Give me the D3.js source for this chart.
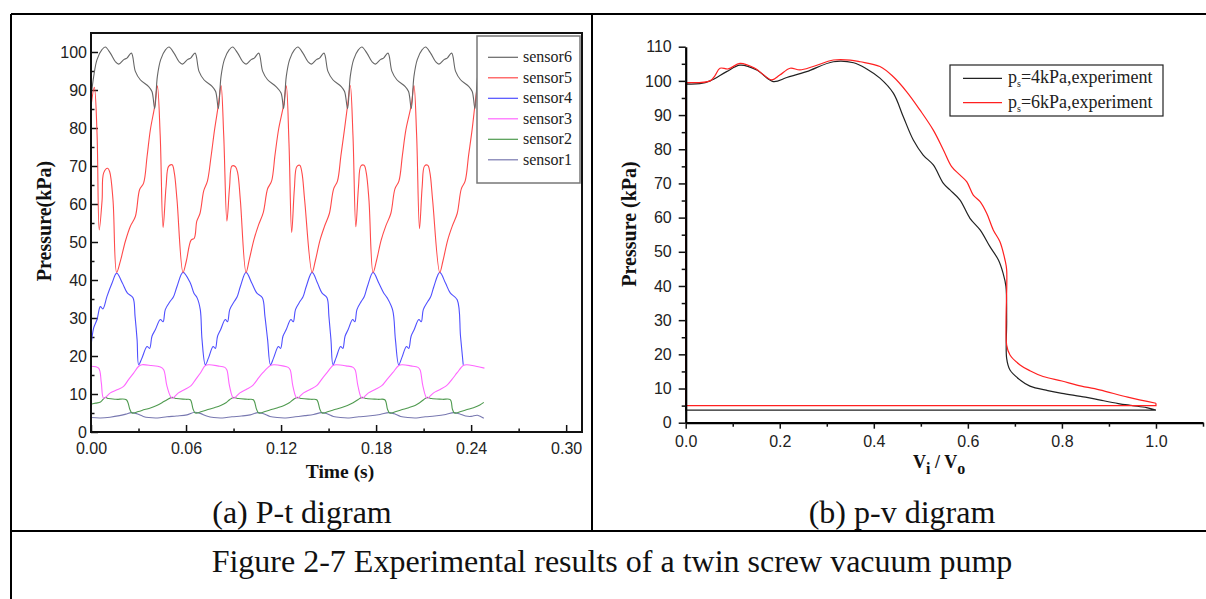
<!DOCTYPE html>
<html>
<head>
<meta charset="utf-8">
<script src="https://cdn.jsdelivr.net/npm/d3@7"></script>
<style>
  body { margin: 0; background: #fff; }
  svg { display: block; }
</style>
</head>
<body>
<svg id="canvas" width="1206" height="599"></svg>
<script>
// ---------------- data: (a) P-t diagram ----------------
const timeTicks = [0, 0.06, 0.12, 0.18, 0.24, 0.30]
const timeMinor = [0.03, 0.09, 0.15, 0.21, 0.27]
const pressTicksA = [0, 10, 20, 30, 40, 50, 60, 70, 80, 90, 100]
const pressMinorA = [5, 15, 25, 35, 45, 55, 65, 75, 85, 95]

const sensor6 = [[0,88],[0.0017,93.6],[0.0038,98],[0.0069,100.6],[0.009,101.3],[0.0122,99.7],[0.0153,97.5],[0.0175,96.8],[0.0207,98],[0.0227,98.4],[0.0255,99.7],[0.028,94.9],[0.0311,92.7],[0.0364,90.9],[0.0385,89.6],
  [0.0402,85.1],[0.0419,93.6],[0.044,98],[0.0471,100.6],[0.0492,101.3],[0.0524,99.7],[0.0555,97.5],[0.0577,96.8],[0.0609,98],[0.0629,98.4],[0.0657,99.7],[0.0682,94.9],[0.0713,92.7],[0.0766,90.9],[0.0787,89.6],
  [0.0804,85.1],[0.0821,93.6],[0.0842,98],[0.0873,100.6],[0.0894,101.3],[0.0926,99.7],[0.0957,97.5],[0.0979,96.8],[0.1011,98],[0.1031,98.4],[0.1059,99.7],[0.1084,94.9],[0.1115,92.7],[0.1168,90.9],[0.12,89.2],
  [0.1216,85.1],[0.1233,93.6],[0.1254,98],[0.1285,100.6],[0.1306,101.3],[0.1338,99.7],[0.1369,97.5],[0.1391,96.8],[0.1423,98],[0.1443,98.4],[0.1471,99.7],[0.1496,94.9],[0.1527,92.7],[0.158,90.9],[0.1601,89.6],
  [0.162,85.1],[0.1637,93.6],[0.1658,98],[0.1689,100.6],[0.171,101.3],[0.1742,99.7],[0.1773,97.5],[0.1795,96.8],[0.1827,98],[0.1847,98.4],[0.1875,99.7],[0.19,94.9],[0.1931,92.7],[0.1984,90.9],[0.2005,89.6],
  [0.2022,85.1],[0.2039,93.6],[0.206,98],[0.2091,100.6],[0.2112,101.3],[0.2144,99.7],[0.2175,97.5],[0.2197,96.8],[0.2229,98],[0.2249,98.4],[0.2277,99.7],[0.2302,94.9],[0.2333,92.7],[0.2386,90.9],[0.2407,89.6],
  [0.2424,85.1],[0.2441,93.6],[0.2462,98],[0.248,99.5]]

const sensor5 = [[0,85.7],[0.0021,90.7],[0.0038,78.7],[0.0052,53.2],[0.007,61],[0.008,68.2],[0.0105,69.4],[0.0118,68.5],[0.0139,61],[0.0162,42],
  [0.0185,44.9],[0.0217,50.2],[0.0248,54.1],[0.028,56.7],[0.0307,63.8],[0.0332,65.5],[0.0354,72.5],[0.0375,79.6],[0.0402,85.7],
  [0.0419,91.1],[0.0437,78],[0.0455,53.8],[0.0474,64.6],[0.049,69.9],[0.0512,70.3],[0.0526,68.2],[0.0543,61.1],[0.0581,42],
  [0.0602,45],[0.0632,50.5],[0.0652,51],[0.0668,55.5],[0.0688,57.5],[0.0712,63.5],[0.0735,66],[0.0758,72.5],[0.078,79.5],[0.0804,86],
  [0.0821,91.2],[0.0838,78],[0.0858,55.5],[0.0875,64.6],[0.089,70],[0.0912,69.8],[0.0926,68.2],[0.0943,61],[0.0979,42],
  [0.1,45.5],[0.103,50.8],[0.1058,54.5],[0.1088,57.8],[0.1115,64],[0.114,66],[0.1162,73],[0.1185,79.8],[0.1216,86],
  [0.1233,91.1],[0.125,76],[0.1267,52.5],[0.1284,64],[0.1299,69.8],[0.1318,70.2],[0.1332,68.2],[0.1349,61],[0.1396,42],
  [0.1416,45],[0.1446,50.5],[0.1475,54.2],[0.1505,57.5],[0.1532,64],[0.1556,66],[0.1578,72.8],[0.16,79.5],[0.162,86],
  [0.1637,91.2],[0.1654,78],[0.1672,54],[0.1689,64.6],[0.1704,70],[0.1724,70.2],[0.1738,68.2],[0.1755,61],[0.1781,42],
  [0.1802,45],[0.1832,50.5],[0.1862,54.3],[0.1893,57.5],[0.1919,64],[0.1944,66],[0.1966,72.8],[0.1988,79.5],[0.2022,86],
  [0.2039,91.2],[0.2056,78],[0.2074,53.5],[0.2091,64.6],[0.2106,70],[0.2126,70.2],[0.214,68.2],[0.2157,61],[0.2202,42],
  [0.2222,45],[0.2252,50.5],[0.2282,54.3],[0.2312,57.5],[0.2338,64],[0.2362,66],[0.2384,72.8],[0.2406,79.5],[0.2424,86],
  [0.2441,91.2],[0.2448,88]]

const sensor4 = [[0,22.5],[0.0017,27.4],[0.0038,29.6],[0.0059,33],[0.0075,32.4],[0.0101,35.7],[0.0133,39.2],[0.0162,41.8],
  [0.0198,39.2],[0.0229,36.6],[0.0265,35.3],[0.0278,30.5],[0.0291,24.3],[0.0301,17.7],
  [0.0322,19.5],[0.0354,22.5],[0.037,22],[0.0385,25.2],[0.0406,26.9],[0.0438,29.6],[0.0455,29],[0.0469,32.2],[0.05,34.4],[0.052,35.5],[0.0543,38.3],[0.0581,42],
  [0.0627,39.2],[0.065,36.5],[0.067,35.3],[0.069,32.2],[0.0701,24.3],[0.0722,17.7],
  [0.0742,19.5],[0.0771,22.5],[0.0785,22],[0.0799,25.2],[0.0818,26.9],[0.0848,29.6],[0.0862,29],[0.0876,32.2],[0.0905,34.4],[0.0922,35.5],[0.0943,38.3],[0.0979,42],
  [0.1015,39.2],[0.1046,36.6],[0.1082,35.3],[0.1098,30.5],[0.1115,24.3],[0.1133,17.7],
  [0.1153,19.5],[0.1183,22.5],[0.1197,22],[0.1212,25.2],[0.1232,26.9],[0.1262,29.6],[0.1277,29],[0.1291,32.2],[0.132,34.4],[0.1338,35.5],[0.1359,38.3],[0.1396,42],
  [0.143,39.2],[0.1458,36.6],[0.149,35.3],[0.1502,30.5],[0.1515,24.3],[0.1528,17.7],
  [0.1547,19.5],[0.1576,22.5],[0.159,22],[0.1604,25.2],[0.1623,26.9],[0.1652,29.6],[0.1666,29],[0.1679,32.2],[0.1707,34.4],[0.1724,35.5],[0.1745,38.3],[0.1781,42],
  [0.1817,39.2],[0.1848,36.6],[0.187,35.3],[0.1905,32],[0.1922,24.3],[0.1943,17.7],
  [0.1962,19.5],[0.1992,22.5],[0.2006,22],[0.2021,25.2],[0.204,26.9],[0.207,29.6],[0.2085,29],[0.2098,32.2],[0.2127,34.4],[0.2144,35.5],[0.2165,38.3],[0.2202,42],
  [0.2238,39.2],[0.2268,36.6],[0.2312,34.8],[0.2333,25.2],[0.235,17.7]]

const sensor3 = [[0,17.3],[0.0048,16.8],[0.0065,13],[0.008,8.9],
  [0.0122,10.3],[0.0164,11.1],[0.0206,12],[0.0237,13.8],[0.0269,15.5],[0.0301,17.3],[0.0322,17.7],[0.038,17.5],[0.0438,17.1],[0.0459,16.4],[0.048,12],[0.0512,8.9],
  [0.0552,10.3],[0.0592,11.2],[0.0632,12.2],[0.066,13.8],[0.0692,15.6],[0.0722,17.5],[0.0745,17.7],[0.08,17.4],[0.0845,17],[0.0858,16.3],[0.0875,12],[0.09,8.9],
  [0.094,10.3],[0.098,11.2],[0.102,12.2],[0.105,13.8],[0.1085,15.6],[0.1133,17.5],[0.1155,17.7],[0.121,17.4],[0.1245,17],[0.1258,16.3],[0.1275,12],[0.1301,8.9],
  [0.1342,10.3],[0.1384,11.2],[0.1425,12.2],[0.1455,13.8],[0.149,15.6],[0.1528,17.5],[0.155,17.7],[0.161,17.4],[0.1655,17],[0.1668,16.3],[0.1686,12],[0.1711,8.9],
  [0.1752,10.3],[0.1794,11.2],[0.1836,12.2],[0.1868,13.8],[0.1905,15.6],[0.1943,17.5],[0.1965,17.7],[0.202,17.4],[0.2065,17],[0.2078,16.3],[0.2096,12],[0.2122,8.9],
  [0.2163,10.3],[0.2205,11.2],[0.2245,12.2],[0.2278,13.8],[0.2312,15.6],[0.235,17.5],[0.2372,17.7],[0.243,17.3],[0.2484,16.8]]

const sensor2 = [[0,7.3],[0.003,7.6],[0.006,7.9],[0.009,9.1],[0.011,8.8],[0.016,8.6],[0.0223,8.5],[0.0245,6],[0.0259,5],
  [0.0299,5.4],[0.0339,5.9],[0.0375,6.3],[0.0415,7],[0.0448,7.7],[0.048,8.5],[0.0512,9.1],[0.054,8.8],[0.06,8.6],[0.0627,8.5],[0.0645,6],[0.0659,5],
  [0.0699,5.4],[0.0739,5.9],[0.0779,6.4],[0.0819,7],[0.0852,7.7],[0.0875,8.5],[0.09,9.1],[0.093,8.8],[0.099,8.6],[0.1025,8.5],[0.1045,6],[0.1059,5],
  [0.1099,5.4],[0.1139,5.9],[0.1179,6.4],[0.1219,7],[0.1252,7.7],[0.1276,8.5],[0.1301,9.1],[0.133,8.8],[0.139,8.6],[0.1425,8.5],[0.1445,6],[0.1459,5],
  [0.1499,5.4],[0.1539,5.9],[0.1579,6.4],[0.1619,7],[0.1655,7.7],[0.1685,8.5],[0.1711,9.1],[0.174,8.8],[0.181,8.6],[0.1855,8.5],[0.1872,6],[0.1886,5],
  [0.1926,5.4],[0.1966,5.9],[0.2006,6.4],[0.2046,7],[0.2075,7.7],[0.21,8.5],[0.2122,9.1],[0.215,8.8],[0.222,8.6],[0.2268,8.5],[0.2282,6],[0.2295,5],
  [0.2335,5.4],[0.2375,5.9],[0.2415,6.4],[0.2455,7.1],[0.248,7.8]]

const sensor1 = [[0,3.8],[0.006,3.7],[0.012,3.9],[0.018,4.3],[0.022,4.7],[0.0255,5.1],[0.029,4.8],[0.033,4.1],[0.0365,3.8],
  [0.042,3.7],[0.048,4],[0.054,4.2],[0.0606,4.5],[0.0655,5.2],[0.069,4.9],[0.073,4.2],[0.0775,3.8],
  [0.083,3.7],[0.089,4],[0.095,4.2],[0.1005,4.5],[0.1055,5.1],[0.109,4.8],[0.113,4.1],[0.1175,3.8],
  [0.123,3.7],[0.129,4],[0.135,4.3],[0.1405,4.6],[0.1455,5.1],[0.149,4.8],[0.153,4.1],[0.1575,3.8],
  [0.163,3.7],[0.169,4],[0.175,4.2],[0.1825,4.6],[0.188,5.1],[0.1915,4.8],[0.1955,4.1],[0.2,3.8],
  [0.2055,3.7],[0.211,4],[0.217,4.2],[0.224,4.6],[0.229,5.1],[0.2325,4.8],[0.2365,4.2],[0.24,4.1],[0.244,4.4],[0.248,3.6]]

const sensorNames = ['sensor6', 'sensor5', 'sensor4', 'sensor3', 'sensor2', 'sensor1']
const sensorData = [sensor6, sensor5, sensor4, sensor3, sensor2, sensor1]

// ---------------- data: (b) p-v diagram ----------------
const volTicks = [0, 0.2, 0.4, 0.6, 0.8, 1.0]
const volMinor = [0.1, 0.3, 0.5, 0.7, 0.9, 1.1]
const pressTicksB = [0, 10, 20, 30, 40, 50, 60, 70, 80, 90, 100, 110]
const pressMinorB = [5, 15, 25, 35, 45, 55, 65, 75, 85, 95, 105]

const ps4kPa = [[0,3.7],[0,99.1],[0.03,99.2],[0.052,100],[0.087,102.7],[0.1155,104.6],[0.151,103.2],[0.186,99.8],[0.215,101],[0.257,102.7],[0.314,105.6],[0.357,105.3],[0.385,103.5],[0.413,100.8],[0.4415,96.4],[0.4627,89.5],[0.484,82.7],[0.505,78.3],[0.5265,75.4],[0.548,70],[0.562,68.1],[0.583,65.2],[0.6045,59.8],[0.626,56.4],[0.647,51.5],[0.665,47.6],[0.675,43.7],[0.681,39.8],[0.6825,30],[0.6825,18.8],[0.6896,15.4],[0.711,12.5],[0.732,10.7],[0.77,9.4],[0.8,8.6],[0.85,7.5],[0.882,6.6],[0.92,5.6],[0.95,5],[0.98,4.4],[1.0,3.7],[0,3.7]]
const ps6kPa = [[0,5],[0,99.5],[0.052,100],[0.062,101.5],[0.073,103.7],[0.0906,103.5],[0.1155,105.1],[0.147,103.7],[0.183,100.3],[0.2,101.7],[0.222,103.7],[0.243,103.2],[0.271,104.2],[0.314,106.1],[0.35,106.1],[0.371,105.6],[0.413,104.2],[0.4415,101.2],[0.47,96.8],[0.498,91.5],[0.5265,85.6],[0.548,79.8],[0.5655,74.9],[0.583,72.5],[0.5975,70.5],[0.6115,66.6],[0.626,64.7],[0.64,61.3],[0.654,56.4],[0.668,53],[0.679,47.6],[0.6825,44.7],[0.6825,22.7],[0.6896,19.8],[0.711,16.9],[0.732,15.2],[0.76,13.5],[0.8,12.2],[0.832,11],[0.88,9.6],[0.94,7.5],[1.0,5.7],[1.0,5],[0,5]]
const pvNames = ['=4kPa,experiment', '=6kPa,experiment']
const pvData = [ps4kPa, ps6kPa]

// ---------------- styles ----------------
const sensorColors = ['#666666', '#ff4a4a', '#4f4fff', '#ff66ff', '#4f9a4f', '#7878b0']
const pvColors = ['#222222', '#ff2020']
const serif = '"Liberation Serif", "Times New Roman", serif'
const sans = '"Liberation Sans", Arial, sans-serif'

let canvas = d3.select('#canvas')
canvas.append('rect').attr('width', 1206).attr('height', 599).attr('fill', '#fff')

// table borders
let borders = [[11, 14, 1206, 14], [11, 14, 11, 599], [592, 14, 592, 531], [11, 531, 1206, 531]]
canvas.selectAll('line.border').data(borders).enter().append('line')
  .attr('class', 'border')
  .attr('x1', d => d[0]).attr('y1', d => d[1]).attr('x2', d => d[2]).attr('y2', d => d[3])
  .attr('stroke', '#000').attr('stroke-width', 2)

let styleAxis = (g, size) => {
  g.attr('font-family', sans).attr('font-size', size)
  g.selectAll('text').attr('fill', '#222')
  g.selectAll('line').attr('stroke', '#111').attr('stroke-width', 1.5)
}

// ================= (a) P-t =================
let xT = d3.scaleLinear().domain([0, 0.31]).range([91, 582])
let yT = d3.scaleLinear().domain([0, 105]).range([432, 33])
let panelA = canvas.append('g')

panelA.append('g').attr('transform', 'translate(0,432)')
  .call(d3.axisBottom(xT).tickValues(timeTicks).tickFormat(d3.format('.2f')).tickSizeInner(-7).tickSizeOuter(0).tickPadding(11))
  .call(g => g.select('.domain').remove())
  .call(g => styleAxis(g, 16))
panelA.append('g').attr('transform', 'translate(0,432)')
  .call(d3.axisBottom(xT).tickValues(timeMinor).tickFormat('').tickSizeInner(-3.5).tickSizeOuter(0))
  .call(g => g.select('.domain').remove())
  .call(g => styleAxis(g, 16))
panelA.append('g').attr('transform', 'translate(91,0)')
  .call(d3.axisLeft(yT).tickValues(pressTicksA).tickSizeInner(-7).tickSizeOuter(0).tickPadding(4))
  .call(g => g.select('.domain').remove())
  .call(g => styleAxis(g, 16))
panelA.append('g').attr('transform', 'translate(91,0)')
  .call(d3.axisLeft(yT).tickValues(pressMinorA).tickFormat('').tickSizeInner(-3.5).tickSizeOuter(0))
  .call(g => g.select('.domain').remove())
  .call(g => styleAxis(g, 16))

let lineA = d3.line().x(d => xT(d[0])).y(d => yT(d[1])).curve(d3.curveCatmullRom.alpha(0.5))
// draw bottom sensors first so upper curves sit on top
panelA.selectAll('path.sensor').data(sensorData.slice().reverse()).enter().append('path')
  .attr('class', 'sensor')
  .attr('d', lineA)
  .attr('fill', 'none')
  .attr('stroke', (d, i) => sensorColors[sensorColors.length - 1 - i])
  .attr('stroke-width', 1.1)

panelA.append('rect').attr('x', 91).attr('y', 33).attr('width', 491).attr('height', 399)
  .attr('fill', 'none').attr('stroke', '#111').attr('stroke-width', 2)

// legend (a)
let legA = panelA.append('g')
legA.append('rect').attr('x', 477).attr('y', 36).attr('width', 103).attr('height', 147)
  .attr('fill', '#fff').attr('stroke', '#777').attr('stroke-width', 1.5)
let rowsA = legA.selectAll('g.row').data(sensorNames).enter().append('g')
  .attr('transform', (d, i) => 'translate(0,' + (57.3 + i * 20.5) + ')')
rowsA.append('line').attr('x1', 488).attr('x2', 518).attr('y1', 0).attr('y2', 0)
  .attr('stroke', (d, i) => sensorColors[i]).attr('stroke-width', 1.2)
rowsA.append('text').attr('x', 523).attr('y', 5).text(d => d)
  .attr('font-family', serif).attr('font-size', 16).attr('fill', '#222')

panelA.append('text').attr('transform', 'translate(51,221) rotate(-90)')
  .attr('text-anchor', 'middle').attr('font-family', serif).attr('font-size', 20)
  .attr('font-weight', 'bold').attr('fill', '#111').text('Pressure(kPa)')
panelA.append('text').attr('x', 340).attr('y', 478)
  .attr('text-anchor', 'middle').attr('font-family', serif).attr('font-size', 19.5)
  .attr('font-weight', 'bold').attr('fill', '#111').text('Time (s)')

// ================= (b) p-v =================
let xV = d3.scaleLinear().domain([0, 1.1]).range([685.7, 1203])
let yV = d3.scaleLinear().domain([0, 110]).range([422.7, 46.7])
let panelB = canvas.append('g')

// smooth compression/discharge branch, straight closing segments of the loop
let smoothB = d3.line().x(d => xV(d[0])).y(d => yV(d[1])).curve(d3.curveCatmullRom.alpha(0.5))
let straightB = d3.line().x(d => xV(d[0])).y(d => yV(d[1]))
let loopPath = (d) => {
  let end = d.findIndex(p => p[0] >= 1.0)
  let branch = d.slice(1, end + 1)
  let closing = d.slice(end).concat([d[1]])
  return smoothB(branch) + straightB(closing)
}
panelB.selectAll('path.pv').data(pvData).enter().append('path')
  .attr('class', 'pv')
  .attr('d', loopPath)
  .attr('fill', 'none')
  .attr('stroke', (d, i) => pvColors[i])
  .attr('stroke-width', 1.2)

panelB.append('g').attr('transform', 'translate(0,422.7)')
  .call(d3.axisBottom(xV).tickValues(volTicks).tickFormat(d3.format('.1f')).tickSizeInner(6).tickSizeOuter(0).tickPadding(7))
  .call(g => styleAxis(g, 16))
  .call(g => g.select('.domain').attr('stroke', '#000').attr('stroke-width', 2.2))
panelB.append('g').attr('transform', 'translate(0,422.7)')
  .call(d3.axisBottom(xV).tickValues(volMinor).tickFormat('').tickSizeInner(4).tickSizeOuter(0))
  .call(g => g.select('.domain').remove())
  .call(g => styleAxis(g, 16))
panelB.append('g').attr('transform', 'translate(685.7,0)')
  .call(d3.axisLeft(yV).tickValues(pressTicksB).tickSizeInner(7).tickSizeOuter(0).tickPadding(7))
  .call(g => styleAxis(g, 16))
  .call(g => g.select('.domain').attr('stroke', '#000').attr('stroke-width', 2.2))
panelB.append('g').attr('transform', 'translate(685.7,0)')
  .call(d3.axisLeft(yV).tickValues(pressMinorB).tickFormat('').tickSizeInner(4).tickSizeOuter(0))
  .call(g => g.select('.domain').remove())
  .call(g => styleAxis(g, 16))

// legend (b)
let legB = panelB.append('g')
legB.append('rect').attr('x', 950).attr('y', 65).attr('width', 213).attr('height', 51)
  .attr('fill', '#fff').attr('stroke', '#222').attr('stroke-width', 1.2)
let rowsB = legB.selectAll('g.row').data(pvNames).enter().append('g')
  .attr('transform', (d, i) => 'translate(0,' + (78.3 + i * 24.4) + ')')
rowsB.append('line').attr('x1', 963).attr('x2', 1002).attr('y1', 0).attr('y2', 0)
  .attr('stroke', (d, i) => pvColors[i]).attr('stroke-width', 1.2)
let legText = rowsB.append('text').attr('x', 1008).attr('y', 5)
  .attr('font-family', serif).attr('font-size', 18).attr('fill', '#222')
legText.append('tspan').text('p')
legText.append('tspan').attr('font-size', 10).attr('dy', 4).text('s')
legText.append('tspan').attr('dy', -4).text(d => d)

panelB.append('text').attr('transform', 'translate(636,224) rotate(-90)')
  .attr('text-anchor', 'middle').attr('font-family', serif).attr('font-size', 20)
  .attr('font-weight', 'bold').attr('fill', '#111').text('Pressure (kPa)')
let vLabel = panelB.append('text').attr('x', 913).attr('y', 468)
  .attr('font-family', serif).attr('font-size', 18).attr('font-weight', 'bold').attr('fill', '#111')
vLabel.append('tspan').text('V')
vLabel.append('tspan').attr('font-size', 16).attr('dy', 6).text('i')
vLabel.append('tspan').attr('dy', -6).text(' / V')
vLabel.append('tspan').attr('font-size', 16).attr('dy', 6).text('o')

// ================= captions =================
let captions = [
  {text: '(a) P-t digram', x: 302, y: 523},
  {text: '(b) p-v digram', x: 902, y: 523},
  {text: 'Figure 2-7 Experimental results of a twin screw vacuum pump', x: 612, y: 572}
]
canvas.selectAll('text.caption').data(captions).enter().append('text')
  .attr('class', 'caption')
  .attr('x', d => d.x).attr('y', d => d.y)
  .attr('text-anchor', 'middle')
  .attr('font-family', serif).attr('font-size', 32).attr('fill', '#111')
  .text(d => d.text)
</script>
</body>
</html>
